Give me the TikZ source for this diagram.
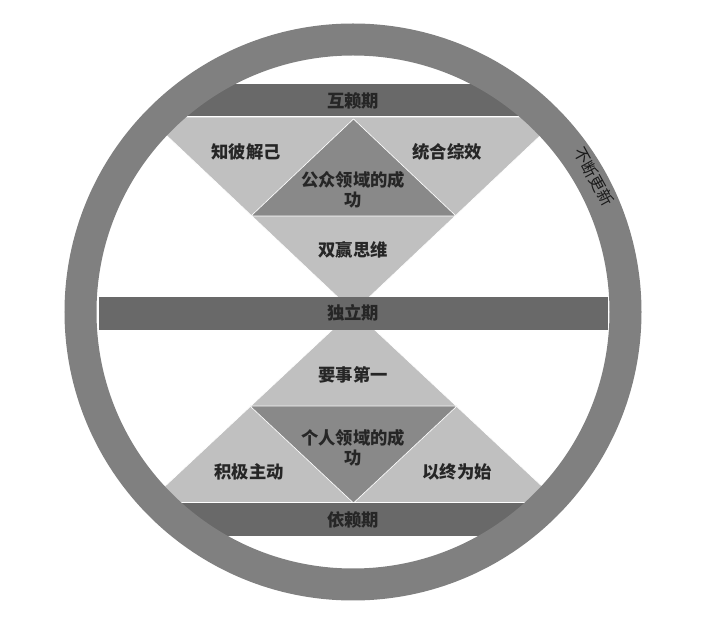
\documentclass[tikz,border=0pt]{standalone}
\usepackage{fontspec}
\usepackage{tikz}
\newfontfamily\cjk{Noto Sans CJK SC}
\definecolor{ringgray}{HTML}{808080}
\definecolor{bandgray}{HTML}{696969}
\definecolor{palegray}{HTML}{C0C0C0}
\definecolor{coregray}{HTML}{898989}
\definecolor{inkgray}{HTML}{262626}

\begin{document}
\begin{tikzpicture}[x=0.75pt, y=-0.75pt]
\tikzstyle{band} = [fill=bandgray, draw=white, line width=0.75pt]
\tikzstyle{pale} = [fill=palegray, draw=white, line width=0.5pt]
\tikzstyle{core} = [fill=coregray, draw=white, line width=0.5pt]
\tikzstyle{txt} = [text=inkgray, font=\cjk\bfseries\fontsize{13}{15}\selectfont, align=center, inner sep=0pt]

\useasboundingbox (0,0) rectangle (701,627);

% Triangles and bands inside the ring
\begin{scope}
\clip (353,312) circle (272);
\draw [pale] (147,117) -- (560,117) -- (353.5,312) -- cycle;
\draw [pale] (147,503) -- (560,503) -- (353.5,310) -- cycle;
\draw [core] (251,216) -- (456,216) -- (353.5,119) -- cycle;
\draw [core] (250,406) -- (457,406) -- (353.5,503) -- cycle;
\draw [band] (120,84) rectangle (586,117);
\draw [band] (120,503) rectangle (586,537);
\end{scope}
\fill [bandgray] (99,297) rectangle (608,330);

% Outer ring
\draw [ringgray, line width=24pt] (353,312) circle (272.5);

% Labels
\node [txt] (hulai) at (353,101) {互赖期};
\node [txt] (zhibi) at (246,152) {知彼解己};
\node [txt] (tonghe) at (447,152) {统合综效};
\node [txt] (gongzhong) at (353,190) {公众领域的成\\功};
\node [txt] (shuangying) at (353,250) {双赢思维};
\node [txt] (duli) at (353,313) {独立期};
\node [txt] (yaoshi) at (353,375) {要事第一};
\node [txt] (geren) at (353,448) {个人领域的成\\功};
\node [txt] (jiji) at (249,472) {积极主动};
\node [txt] (yizhong) at (457,472) {以终为始};
\node [txt] (yilai) at (353,520) {依赖期};
\node [txt, text=black!90, font=\cjk\fontsize{12}{14}\selectfont, rotate=-61] (renew) at (594,177) {不断更新};

\end{tikzpicture}
\end{document}
